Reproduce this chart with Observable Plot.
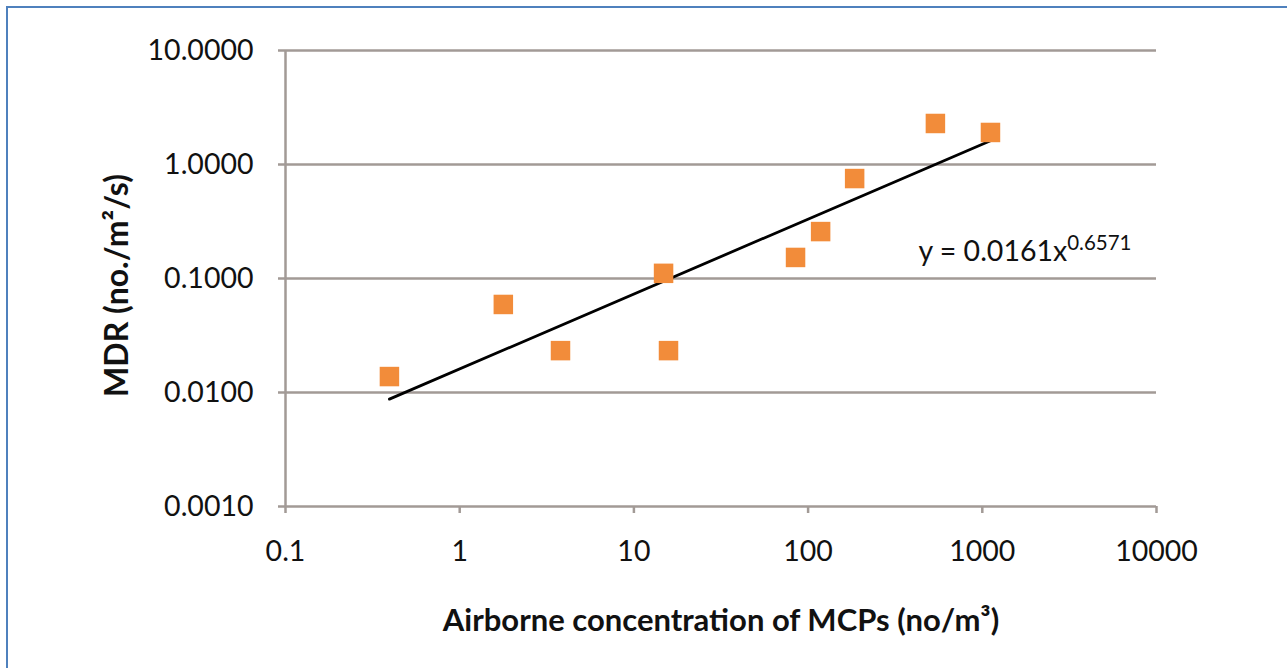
<!DOCTYPE html>
<html>
<head>
<meta charset="utf-8">
<script src="https://cdn.jsdelivr.net/npm/d3@7"></script>
<script src="https://cdn.jsdelivr.net/npm/@observablehq/plot@0.6"></script>
<style>
  html, body { margin: 0; padding: 0; background: #fff; }
  #wrap { position: relative; width: 1287px; height: 668px; overflow: hidden; }
  #frame { position: absolute; left: 6px; top: 6px; width: 1400px; height: 800px;
           border-left: 2px solid #4F81BD; border-top: 2px solid #4F81BD; }
  #chart { position: absolute; left: 0; top: 0; }
</style>
</head>
<body>
<div id="wrap"><div id="frame"></div><div id="chart"></div></div>
<script>
// Data
const concentration = [0.395, 1.78, 3.79, 14.8, 15.8, 84.7, 118, 185, 538, 1114];
const mdr = [0.0138, 0.0592, 0.0233, 0.111, 0.0233, 0.153, 0.258, 0.753, 2.29, 1.91];
const xTicks = [0.1, 1, 10, 100, 1000, 10000];
const yTicks = [0.001, 0.01, 0.1, 1, 10];
const trendCoef = 0.0161;
const trendExp = 0.6571;
const trendRange = [0.395, 1114];
const xTitle = "Airborne concentration of MCPs (no/m³)";
const yTitle = "MDR (no./m²/s)";

const points = concentration.map((x, i) => ({x, y: mdr[i]}));
const trend = trendRange.map(x => ({x, y: trendCoef * Math.pow(x, trendExp)}));

const gridColor = "#A29A96";
const font = "Lato, 'Open Sans', sans-serif";

const plot = Plot.plot({
  width: 1287,
  height: 668,
  marginLeft: 285,
  marginRight: 131,
  marginTop: 50,
  marginBottom: 162,
  style: {fontFamily: font, fontSize: "28.5px", color: "#111", background: "transparent"},
  x: {type: "log", domain: [0.1, 10000]},
  y: {type: "log", domain: [0.001, 10]},
  marks: [
    Plot.ruleY(yTicks, {stroke: gridColor, strokeWidth: 2.5}),
    Plot.ruleX([0.1], {stroke: gridColor, strokeWidth: 2.5}),
    Plot.axisX({ticks: xTicks, tickFormat: d => String(d), tickSize: 7, tickPadding: 27,
                stroke: gridColor, strokeWidth: 2.5, label: null}),
    Plot.axisY({ticks: yTicks, tickFormat: d3.format(".4f"), tickSize: 7, tickPadding: 25,
                stroke: gridColor, strokeWidth: 2.5, label: null}),
    Plot.line(trend, {x: "x", y: "y", stroke: "#000", strokeWidth: 2.8}),
    Plot.dot(points, {x: "x", y: "y", symbol: "square", r: 11, fill: "#F28C3A", stroke: "none"}),
    Plot.text([ "y = " + trendCoef + "x" ], {frameAnchor: "top-left", dx: 633, dy: 201,
               textAnchor: "start", lineAnchor: "middle", fontSize: 28.5, fill: "#111",
               className: "eq"}),
    Plot.text([xTitle], {frameAnchor: "bottom", dy: 115, fontSize: 31, fontWeight: "bold",
               fill: "#111", textAnchor: "middle", lineAnchor: "middle"}),
    Plot.text([yTitle], {frameAnchor: "left", dx: -168, dy: 7, rotate: -90, fontSize: 32,
               fontWeight: "bold", fill: "#111", textAnchor: "middle", lineAnchor: "middle"})
  ]
});
document.getElementById("chart").appendChild(plot);
// superscript exponent of the trendline equation
d3.select(plot).select("g.eq text")
  .append("tspan").attr("dy", "-0.5em").attr("font-size", "0.72em").text(String(trendExp));
</script>
</body>
</html>
